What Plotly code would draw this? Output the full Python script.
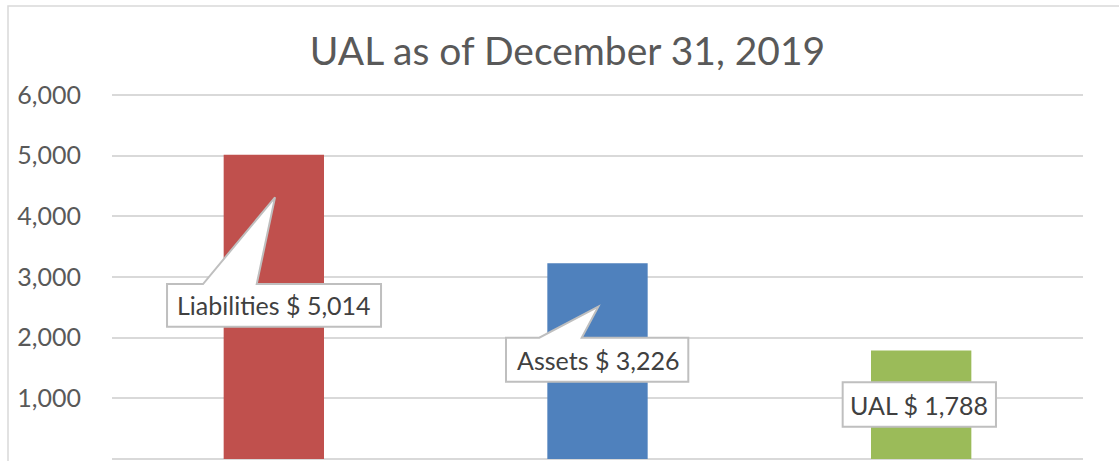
import plotly.graph_objects as go

# ---- data ----
categories = ["Liabilities", "Assets", "UAL"]
values = [5014, 3226, 1788]
bar_colors = ["#C0504D", "#4F81BD", "#9BBB59"]
label_texts = ["Liabilities $ 5,014", "Assets $ 3,226", "UAL $ 1,788"]
tick_vals = [0, 1000, 2000, 3000, 4000, 5000, 6000]
tick_text = ["-\u00a0\u00a0\u00a0", "1,000", "2,000", "3,000", "4,000", "5,000", "6,000"]
title_text = "UAL as of December 31, 2019"

# ---- callout geometry (pixel offsets from each bar's top centre, y up) ----
callout_box = [  # left, right, top, bottom
    (-106.8, 107.2, -129.2, -171.9),
    (-91.5, 90.8, -74.4, -118.4),
    (-78.5, 74.8, -31.8, -76.2),
]
callout_wedge = [  # base-left x, tip x, tip y, base-right x
    (-70.8, 1.2, -42.5, -17.1),
    (-58.2, 0.8, -43.4, -15.8),
    None,
]
label_shift = [(0, -150.5), (0, -96.4), (-2, -54)]

FONT = "Lato"

fig = go.Figure()
fig.add_trace(go.Bar(
    x=categories, y=values,
    marker=dict(color=bar_colors, line=dict(width=0)),
    width=0.31, hoverinfo="skip",
))

shapes = []
annotations = []
for cat, val, box, wedge, txt, sh in zip(categories, values, callout_box, callout_wedge, label_texts, label_shift):
    l, r, t, b = box
    if wedge:
        bl, tx, ty, br = wedge
        path = (f"M {l},{t} L {bl},{t} L {tx},{ty} L {br},{t} L {r},{t} "
                f"L {r},{b} L {l},{b} Z")
    else:
        path = f"M {l},{t} L {r},{t} L {r},{b} L {l},{b} Z"
    shapes.append(dict(
        type="path", xref="x", yref="y", xsizemode="pixel", ysizemode="pixel",
        xanchor=cat, yanchor=val, path=path,
        fillcolor="white", line=dict(color="#BFBFBF", width=2), layer="above",
    ))
    annotations.append(dict(
        x=cat, y=val, xref="x", yref="y", text=txt, showarrow=False,
        xshift=sh[0], yshift=sh[1], xanchor="center", yanchor="middle",
        font=dict(family=FONT, size=25, color="#404040"),
    ))

# chart area border
shapes.append(dict(
    type="rect", xref="paper", yref="paper",
    x0=(8 - 112) / 971, x1=(1130 - 112) / 971,
    y0=-0.1, y1=1 + (93 - 6) / 366,
    line=dict(color="#D9D9D9", width=1.5), fillcolor="rgba(0,0,0,0)", layer="below",
))

fig.update_layout(
    width=1119, height=461,
    margin=dict(l=112, r=36, t=93, b=2),
    paper_bgcolor="white", plot_bgcolor="white",
    title=dict(text=title_text, x=567.5 / 1119, xanchor="center", xref="container",
               y=1 - 51 / 461, yanchor="middle",
               font=dict(family=FONT, size=39, color="#595959")),
    showlegend=False,
    bargap=0.69,
    xaxis=dict(showticklabels=False, showgrid=False, zeroline=False, showline=False,
               ticks=""),
    yaxis=dict(range=[0, 6033], tickvals=tick_vals, ticktext=tick_text,
               showgrid=True, gridcolor="#D9D9D9", gridwidth=2,
               zeroline=True, zerolinecolor="#D9D9D9", zerolinewidth=2,
               showline=False, ticks="", ticklabelstandoff=30,
               tickfont=dict(family=FONT, size=25, color="#595959")),
    shapes=shapes,
    annotations=annotations,
)

fig.write_html("out.html", config={"displayModeBar": False},
               post_script="document.body.style.margin='0px';")
